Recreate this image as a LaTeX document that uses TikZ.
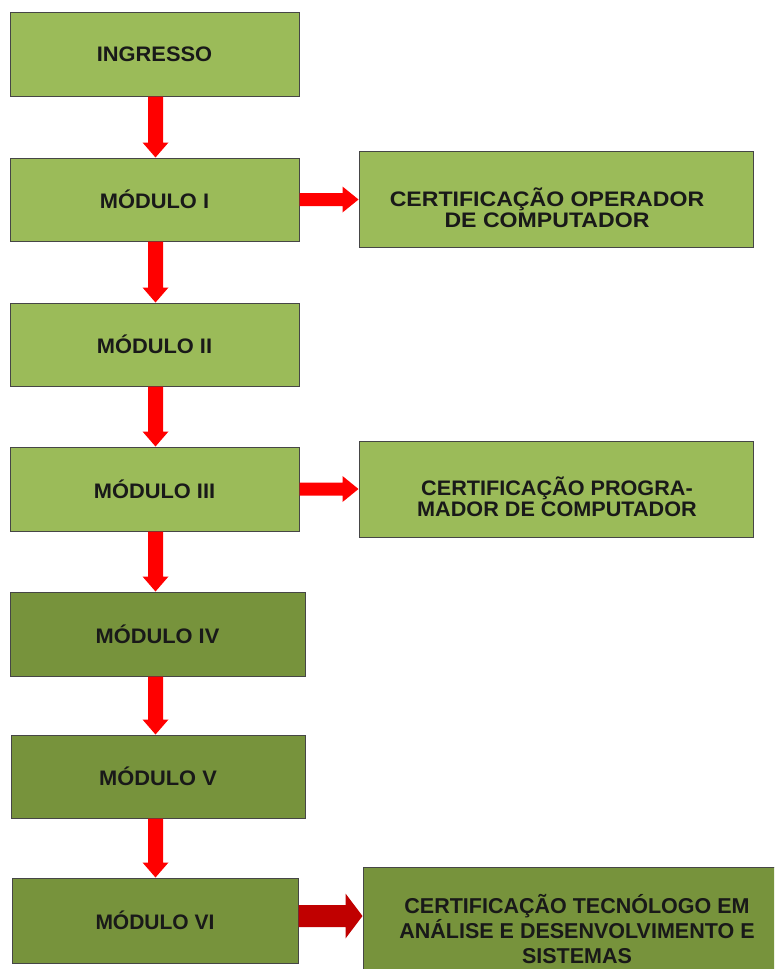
\documentclass[tikz,border=0pt]{standalone}
\usepackage{fontspec}
\setmainfont{Liberation Sans}
\usetikzlibrary{calc}
\definecolor{lightg}{RGB}{155,187,89}
\definecolor{darkg}{RGB}{119,147,60}
\definecolor{bord}{RGB}{70,70,70}
\definecolor{arrred}{RGB}{255,0,0}
\definecolor{darkred}{RGB}{192,0,0}
\definecolor{txt}{RGB}{25,25,25}
\tikzset{
  boxL/.style={draw=bord, line width=1pt, fill=lightg, text=txt, inner sep=0pt,
    font=\fontsize{21}{21}\bfseries\selectfont, align=center},
  boxD/.style={boxL, fill=darkg},
  certtext/.style={text=txt, inner sep=0pt, align=center},
}
\newcommand{\stretchtext}[2]{\scalebox{#1}[1]{\begin{tabular}{@{}c@{}}#2\end{tabular}}}
\newcommand{\stretchone}[1]{\scalebox{1.04}[1]{#1}}
% vertical block arrow from node #1 (bottom) to node #2 (top), at x of coordinate ax
\newcommand{\varrowblk}[2]{%
  \fill[arrred] let \p1=(ax |- #1.south), \p2=(ax |- #2.north) in
    (\x1-7.5pt,\y1) -- (\x1+7.5pt,\y1) -- (\x1+7.5pt,\y2+15pt) -- (\x1+13pt,\y2+15pt)
    -- (\x2,\y2) -- (\x1-13pt,\y2+15pt) -- (\x1-7.5pt,\y2+15pt) -- cycle;}
% horizontal block arrow: start coord #1, target node #2, shaft half #3, head half #4, head length #5, colour #6
\newcommand{\harrowblk}[6]{%
  \fill[#6] let \p1=(#1), \p2=(#2.west |- #1) in
    (\x1,\y1+#3) -- (\x2-#5,\y1+#3) -- (\x2-#5,\y1+#4) -- (\x2,\y1)
    -- (\x2-#5,\y1-#4) -- (\x2-#5,\y1-#3) -- (\x1,\y1-#3) -- cycle;}
\begin{document}
\begin{tikzpicture}[x=1pt,y=-1pt]
\useasboundingbox (0,0) rectangle (774,969);
\fill[white] (0,0) rectangle (774,969);
\begin{scope}
\clip (0,0) rectangle (774,969);
\coordinate (ax) at (155.5,0);
% left column
\node[boxL, minimum width=289pt, minimum height=84pt] (ing) at (154.5,54) {\stretchone{INGRESSO}};
\node[boxL, minimum width=289pt, minimum height=83pt] (m1) at (154.5,199.5) {\stretchone{MÓDULO I}};
\node[boxL, minimum width=289pt, minimum height=83pt] (m2) at (154.5,344.5) {\stretchone{MÓDULO II}};
\node[boxL, minimum width=289pt, minimum height=84pt] (m3) at (154.5,489) {\stretchone{MÓDULO III}};
\node[boxD, minimum width=295pt, minimum height=84pt] (m4) at (157.5,634) {\stretchone{MÓDULO IV}};
\node[boxD, minimum width=294pt, minimum height=83pt] (m5) at (158,776.5) {\stretchone{MÓDULO V}};
\node[boxD, minimum width=286pt, minimum height=85pt] (m6) at (155,920.5) {MÓDULO VI};
% certification boxes
\node[boxL, minimum width=394pt, minimum height=96pt] (c1) at (556,199) {};
\node[boxL, minimum width=394pt, minimum height=96pt] (c2) at (556,489) {};
\node[boxD, minimum width=427pt, minimum height=123pt] (c3) at (576.5,928.5) {};
\node[certtext, font=\fontsize{21}{20}\bfseries\selectfont] (c1t) at (547,210.5)
  {\stretchtext{1.1}{CERTIFICAÇÃO OPERADOR\\DE COMPUTADOR}};
\node[certtext, font=\fontsize{21}{20}\bfseries\selectfont] (c2t) at (557,499.5)
  {\stretchtext{1.03}{CERTIFICAÇÃO PROGRA-\\MADOR DE COMPUTADOR}};
\node[certtext, font=\fontsize{21.5}{25}\bfseries\selectfont] (c3t) at (577,929)
  {CERTIFICAÇÃO TECNÓLOGO EM\\ANÁLISE E DESENVOLVIMENTO E\\SISTEMAS};
% vertical arrows
\varrowblk{ing}{m1}
\varrowblk{m1}{m2}
\varrowblk{m2}{m3}
\varrowblk{m3}{m4}
\varrowblk{m4}{m5}
\varrowblk{m5}{m6}
% horizontal arrows
\coordinate (h1) at (m1.east);
\coordinate (h2) at (m3.east);
\coordinate (h3) at ($(m6.east)+(0,-4.5)$);
\harrowblk{h1}{c1}{6.5pt}{13pt}{16pt}{arrred}
\harrowblk{h2}{c2}{6.5pt}{13pt}{16pt}{arrred}
\harrowblk{h3}{c3}{11pt}{22.5pt}{17pt}{darkred}
\end{scope}
\end{tikzpicture}
\end{document}
